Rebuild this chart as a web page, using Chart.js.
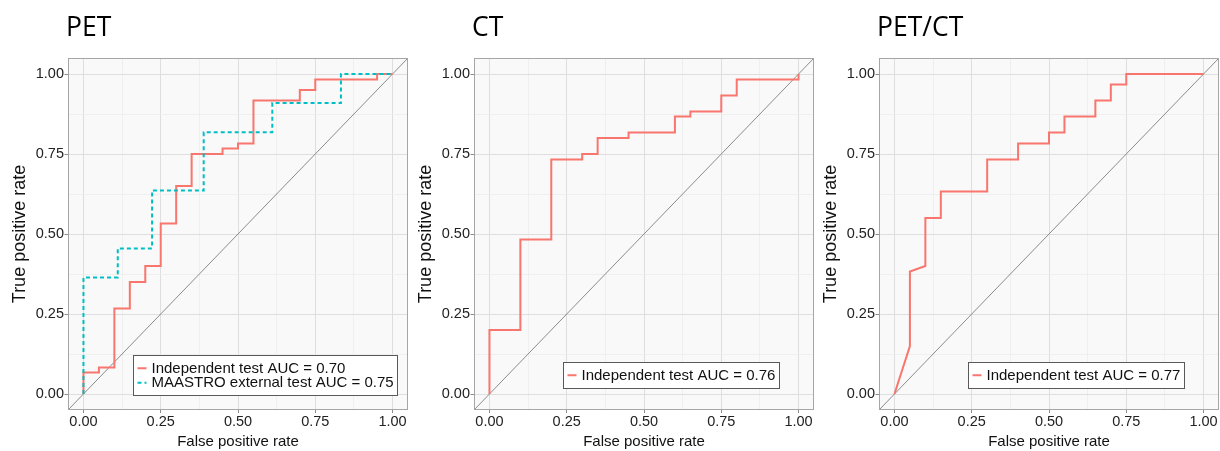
<!DOCTYPE html>
<html>
<head>
<meta charset="utf-8">
<title>ROC curves: PET, CT and PET/CT</title>
<script src="https://cdn.jsdelivr.net/npm/chart.js@4.4.1/dist/chart.umd.min.js"></script>
<style>
  html, body { margin: 0; padding: 0; background: #ffffff; overflow: hidden; }
  #wrap { position: relative; width: 1220px; height: 451px; }
  #wrap canvas { position: absolute; top: 0; }
</style>
</head>
<body>
<div id="wrap">
  <canvas id="pet" width="410" height="451" style="left:0px"></canvas>
  <canvas id="ct" width="410" height="451" style="left:406px"></canvas>
  <canvas id="petct" width="410" height="451" style="left:811px"></canvas>
</div>
<script>
// ---- panel titles and axis labels ----
const panelTitles = ['PET', 'CT', 'PET/CT'];
const xAxisTitle = 'False positive rate';
const yAxisTitle = 'True positive rate';

// ---- axis ticks (labelled major lines, unlabelled minor lines) ----
const majorTicks = [0, 0.25, 0.5, 0.75, 1];
const minorTicks = [0.125, 0.375, 0.625, 0.875];
const axisRange = [-0.05, 1.05];

// ---- reference (chance) line ----
const chanceLine = [-0.05, 1.05];

// ---- PET: independent test set ----
const petIndepLabel = 'Independent test AUC = 0.70';
const petIndepFpr = [0, 0, 0.05, 0.05, 0.10, 0.10, 0.15, 0.15, 0.20, 0.20, 0.25, 0.25, 0.30, 0.30, 0.35, 0.35, 0.45, 0.45, 0.50, 0.50, 0.55, 0.55, 0.70, 0.70, 0.75, 0.75, 0.95, 0.95, 1.00];
const petIndepTpr = [0, 0.067, 0.067, 0.083, 0.083, 0.267, 0.267, 0.350, 0.350, 0.400, 0.400, 0.533, 0.533, 0.650, 0.650, 0.750, 0.750, 0.767, 0.767, 0.783, 0.783, 0.917, 0.917, 0.950, 0.950, 0.983, 0.983, 1.000, 1.000];

// ---- PET: MAASTRO external test set ----
const petMaastroLabel = 'MAASTRO external test AUC = 0.75';
const petMaastroFpr = [0, 0, 0.111, 0.111, 0.222, 0.222, 0.389, 0.389, 0.611, 0.611, 0.833, 0.833, 1.000];
const petMaastroTpr = [0, 0.364, 0.364, 0.455, 0.455, 0.636, 0.636, 0.818, 0.818, 0.909, 0.909, 1.000, 1.000];

// ---- CT: independent test set ----
const ctIndepLabel = 'Independent test AUC = 0.76';
const ctIndepFpr = [0, 0, 0.10, 0.10, 0.20, 0.20, 0.30, 0.30, 0.35, 0.35, 0.45, 0.45, 0.60, 0.60, 0.65, 0.65, 0.75, 0.75, 0.80, 0.80, 1.00, 1.00];
const ctIndepTpr = [0, 0.200, 0.200, 0.483, 0.483, 0.733, 0.733, 0.750, 0.750, 0.800, 0.800, 0.817, 0.817, 0.867, 0.867, 0.883, 0.883, 0.933, 0.933, 0.983, 0.983, 1.000];

// ---- PET/CT: independent test set ----
const petctIndepLabel = 'Independent test AUC = 0.77';
const petctIndepFpr = [0, 0.05, 0.05, 0.10, 0.10, 0.15, 0.15, 0.30, 0.30, 0.40, 0.40, 0.50, 0.50, 0.55, 0.55, 0.65, 0.65, 0.70, 0.70, 0.75, 0.75, 1.00];
const petctIndepTpr = [0, 0.150, 0.383, 0.400, 0.550, 0.550, 0.633, 0.633, 0.733, 0.733, 0.783, 0.783, 0.817, 0.817, 0.867, 0.867, 0.917, 0.917, 0.967, 0.967, 1.000, 1.000];

// ---- styling ----
const RED = '#F8766D';
const CYAN = '#00BFC4';
const SANS = '"Liberation Sans", Arial, Helvetica, sans-serif';
const TITLE_FONT = '"Open Sans", "Noto Sans", sans-serif';

const toPoints = (xs, ys) => xs.map((x, i) => ({ x: x, y: ys[i] }));

// Panel background fill and grey frame around the plotting area
const panelFrame = {
  id: 'panelFrame',
  beforeDraw(chart) {
    const { ctx, chartArea: a } = chart;
    ctx.save();
    ctx.fillStyle = '#F9F9F9';
    ctx.fillRect(a.left, a.top, a.right - a.left, a.bottom - a.top);
    ctx.restore();
  },
  afterDatasetsDraw(chart) {
    const { ctx, chartArea: a } = chart;
    ctx.save();
    ctx.strokeStyle = '#A6A6A6';
    ctx.lineWidth = 1;
    ctx.strokeRect(Math.round(a.left) + 0.5, Math.round(a.top) + 0.5,
                   Math.round(a.right - a.left) - 1, Math.round(a.bottom - a.top) - 1);
    ctx.restore();
  }
};

// Large panel heading, left-aligned above the plotting area
const panelTitle = {
  id: 'panelTitle',
  afterDraw(chart, args, opts) {
    const { ctx, chartArea: a } = chart;
    ctx.save();
    ctx.font = '26.5px ' + TITLE_FONT;
    ctx.fillStyle = '#000000';
    ctx.textAlign = 'left';
    ctx.textBaseline = 'alphabetic';
    ctx.fillText(opts.text, a.left - 2, 36);
    ctx.restore();
  }
};

// Boxed legend placed inside the plotting area (centre given as fractions of the panel)
const rocLegend = {
  id: 'rocLegend',
  afterDatasetsDraw(chart, args, opts) {
    const { ctx, chartArea: a } = chart;
    const items = chart.data.datasets.filter(d => d.label);
    ctx.save();
    ctx.font = '15px ' + SANS;
    const textW = Math.max(...items.map(d => ctx.measureText(d.label).width));
    const padX = 4, keyLen = 9, gap = 5, padR = 4, rowH = 14.5, padY = 5.5;
    const w = Math.round(padX + keyLen + gap + textW + padR);
    const h = Math.round(padY * 2 + rowH * items.length);
    const cx = a.left + opts.cx * (a.right - a.left);
    const cy = a.bottom - opts.cy * (a.bottom - a.top);
    const x0 = Math.round(cx - w / 2) + 0.5;
    const y0 = Math.round(cy - h / 2) + 0.5;
    ctx.fillStyle = '#FFFFFF';
    ctx.fillRect(x0, y0, w, h);
    ctx.strokeStyle = '#595959';
    ctx.lineWidth = 1;
    ctx.strokeRect(x0, y0, w, h);
    items.forEach((d, i) => {
      const yc = y0 + padY + rowH * (i + 0.5);
      ctx.beginPath();
      ctx.strokeStyle = d.borderColor;
      ctx.lineWidth = d.borderWidth;
      ctx.setLineDash(d.borderDash || []);
      ctx.moveTo(x0 + padX, yc);
      ctx.lineTo(x0 + padX + keyLen, yc);
      ctx.stroke();
      ctx.setLineDash([]);
      ctx.fillStyle = '#111111';
      ctx.textAlign = 'left';
      ctx.textBaseline = 'middle';
      ctx.fillText(d.label, x0 + padX + keyLen + gap, yc + 0.5);
    });
    ctx.restore();
  }
};

const gridValues = majorTicks.concat(minorTicks).sort((a, b) => a - b);
const isMajor = v => majorTicks.includes(v);

function axis(position, title, fitSize) {
  const horizontal = position === 'bottom';
  return {
    type: 'linear',
    position: position,
    min: axisRange[0],
    max: axisRange[1],
    afterBuildTicks: s => { s.ticks = gridValues.map(v => ({ value: v })); },
    afterFit: s => { if (horizontal) s.height = fitSize; else s.width = fitSize; },
    border: { display: false },
    grid: {
      color: c => (c.tick && isMajor(c.tick.value)) ? '#DEDEDE' : '#ECECEC',
      lineWidth: c => (c.tick && isMajor(c.tick.value)) ? 1 : 0.8,
      tickColor: c => (c.tick && isMajor(c.tick.value)) ? '#8C8C8C' : 'rgba(0,0,0,0)',
      tickLength: horizontal ? 3 : 3.5,
      drawTicks: true
    },
    ticks: {
      autoSkip: false,
      maxRotation: 0,
      minRotation: 0,
      padding: horizontal ? 0 : 0.5,
      color: '#222222',
      font: { family: SANS, size: 14.5 },
      callback: v => isMajor(v) ? v.toFixed(2) : ''
    },
    title: {
      display: true,
      text: title,
      color: '#111111',
      font: { family: SANS, size: horizontal ? 15 : 18 },
      padding: horizontal ? { top: 0, bottom: 0 } : { top: 9, bottom: 0 }
    }
  };
}

function curve(label, fpr, tpr, color, dash, order) {
  return {
    label: label,
    data: toPoints(fpr, tpr),
    showLine: true,
    borderColor: color,
    backgroundColor: color,
    borderWidth: 2,
    borderDash: dash,
    pointRadius: 0,
    pointHoverRadius: 0,
    tension: 0,
    fill: false,
    order: order
  };
}

function chanceDataset() {
  return {
    label: '',
    data: toPoints(chanceLine, chanceLine),
    showLine: true,
    borderColor: '#7F7F7F',
    borderWidth: 0.9,
    pointRadius: 0,
    pointHoverRadius: 0,
    tension: 0,
    fill: false,
    order: 5
  };
}

function rocChart(canvasId, title, curves) {
  return new Chart(document.getElementById(canvasId), {
    type: 'scatter',
    data: { datasets: curves.concat([chanceDataset()]) },
    options: {
      responsive: false,
      animation: false,
      events: [],
      layout: { padding: { top: 58, right: 2, bottom: 0, left: 0 } },
      scales: {
        x: axis('bottom', xAxisTitle, 41),
        y: axis('left', yAxisTitle, 68)
      },
      plugins: {
        legend: { display: false },
        tooltip: { enabled: false },
        panelTitle: { text: title },
        rocLegend: { cx: 0.58, cy: 0.10 }
      }
    },
    plugins: [panelFrame, panelTitle, rocLegend]
  });
}

rocChart('pet', panelTitles[0], [
  curve(petIndepLabel, petIndepFpr, petIndepTpr, RED, [], 1),
  curve(petMaastroLabel, petMaastroFpr, petMaastroTpr, CYAN, [4, 3], 0)
]);

rocChart('ct', panelTitles[1], [
  curve(ctIndepLabel, ctIndepFpr, ctIndepTpr, RED, [], 1)
]);

rocChart('petct', panelTitles[2], [
  curve(petctIndepLabel, petctIndepFpr, petctIndepTpr, RED, [], 1)
]);
</script>
</body>
</html>
